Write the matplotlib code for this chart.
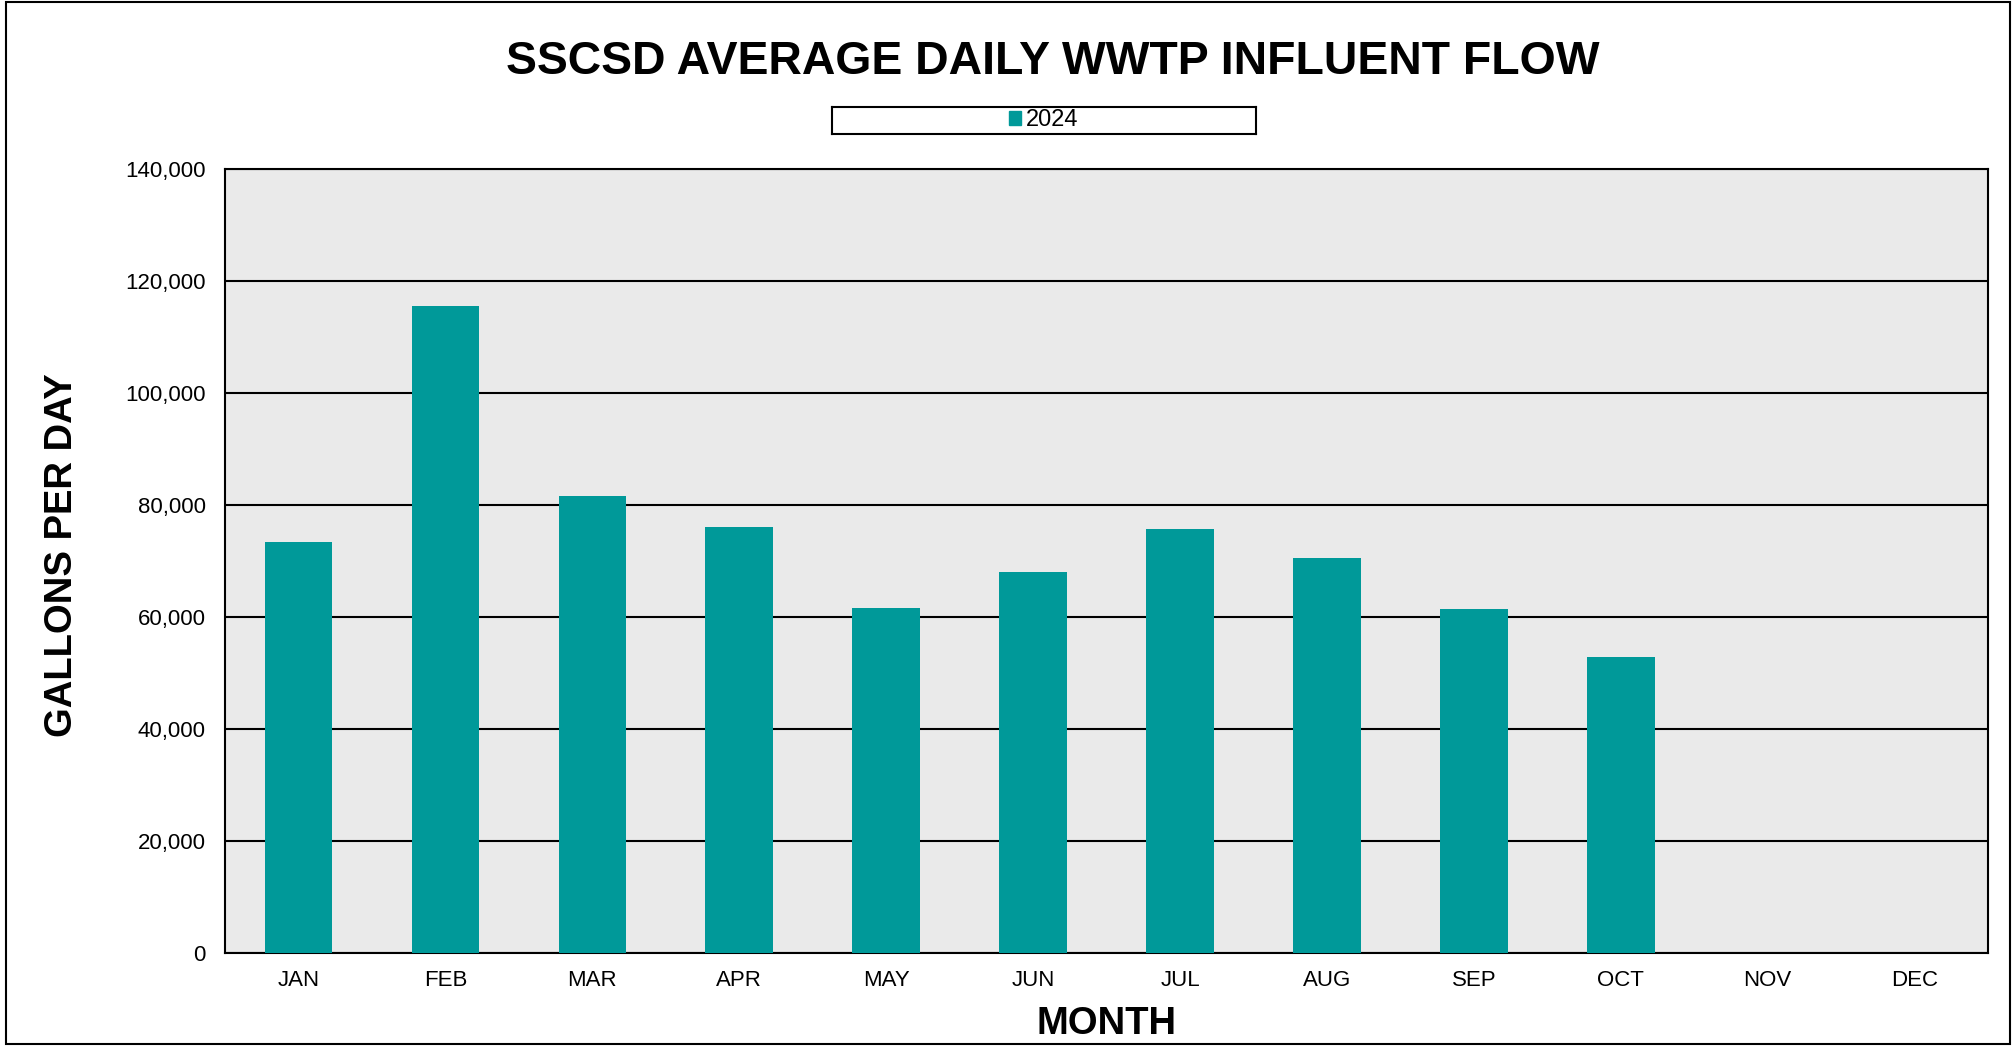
import matplotlib
matplotlib.use("Agg")
import matplotlib.pyplot as plt
from matplotlib.patches import Rectangle, Patch
from matplotlib.ticker import FuncFormatter

plt.rcParams['font.family'] = ['Liberation Sans', 'DejaVu Sans']

months = ['JAN', 'FEB', 'MAR', 'APR', 'MAY', 'JUN', 'JUL', 'AUG', 'SEP', 'OCT', 'NOV', 'DEC']
flow_2024 = [73400, 115500, 81700, 76100, 61700, 68100, 75800, 70600, 61500, 52900, 0, 0]
series_name = '2024'
bar_color = '#009999'

fig = plt.figure(figsize=(20.13, 10.46), dpi=100)
ax = fig.add_axes([0.1118, 0.0889, 0.8758, 0.7495])

x = list(range(len(months)))
ax.bar(x, flow_2024, width=0.46, color=bar_color, zorder=3)

ax.set_facecolor('#EAEAEA')
ax.set_xlim(-0.5, len(months) - 0.5)
ax.set_ylim(0, 140000)
ax.set_yticks(range(0, 140001, 20000))
ax.yaxis.set_major_formatter(FuncFormatter(lambda v, p: '{:,.0f}'.format(v)))
ax.set_xticks(x)
ax.set_xticklabels(months)
ax.tick_params(axis='both', length=0, labelsize=16, colors='black')
ax.tick_params(axis='y', pad=14)
ax.tick_params(axis='x', pad=12)
ax.grid(axis='y', color='black', linewidth=1.5, zorder=1)
for s in ax.spines.values():
    s.set_linewidth(1.5)
    s.set_color('black')

ax.set_ylabel('GALLONS PER DAY', fontsize=27.5, fontweight='bold')
ax.yaxis.set_label_coords(-0.082, 0.507)
ax.set_xlabel('MONTH', fontsize=27.5, fontweight='bold', labelpad=11)

fig.text(0.523, 0.941, 'SSCSD AVERAGE DAILY WWTP INFLUENT FLOW',
         ha='center', va='center', fontsize=33.4, fontweight='bold')

# legend box
leg_ax = fig.add_axes([0.4132, 0.8719, 0.2108, 0.0258])
leg_ax.set_xticks([])
leg_ax.set_yticks([])
leg_ax.set_xlim(0, 1)
leg_ax.set_ylim(0, 1)
for s in leg_ax.spines.values():
    s.set_linewidth(1.5)
leg_ax.legend(handles=[Patch(color=bar_color, label=series_name)], loc='center',
              frameon=False, fontsize=17, handlelength=0.5, handleheight=0.5,
              handletextpad=0.2, borderpad=0)

fig.add_artist(Rectangle((0.003, 0.002), 0.9955, 0.996, transform=fig.transFigure,
                         fill=False, edgecolor='black', linewidth=1.5))

fig.savefig('out.png', dpi=100, facecolor='white')
